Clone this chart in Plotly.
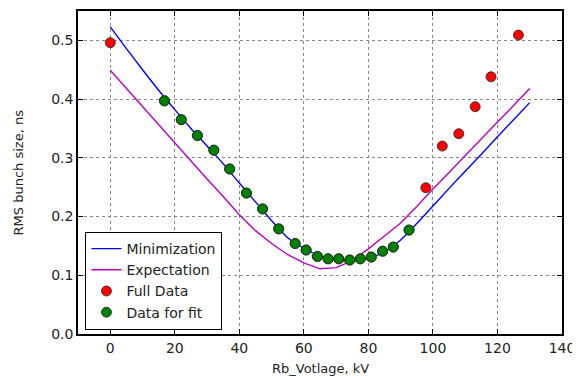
import plotly.graph_objects as go

curve_x = [0, 5, 10, 15, 20, 25, 30, 35, 40, 45, 50, 55, 60, 65, 70, 75, 80, 85, 90, 95, 100, 105, 110, 115, 120, 125, 130]
minimization_y = [0.523, 0.486, 0.450, 0.415, 0.382, 0.350, 0.320, 0.290, 0.257, 0.225, 0.193, 0.164, 0.146, 0.133, 0.126, 0.124, 0.129, 0.140, 0.160, 0.188, 0.218, 0.248, 0.277, 0.306, 0.336, 0.365, 0.394]
expectation_y = [0.449, 0.418, 0.387, 0.356, 0.326, 0.295, 0.264, 0.234, 0.203, 0.176, 0.154, 0.135, 0.121, 0.111, 0.113, 0.125, 0.145, 0.167, 0.189, 0.217, 0.247, 0.275, 0.304, 0.332, 0.361, 0.389, 0.418]

# Full data (red)
full_x = [0, 16.8, 22.0, 27.0, 32.1, 37.0, 42.2, 47.2, 52.2, 57.3, 60.7, 64.2, 67.5, 70.8, 74.2, 77.5, 80.9, 84.4, 87.7, 92.6, 97.8, 102.9, 108.0, 113.1, 118.0, 126.5]
full_y = [0.496, 0.397, 0.365, 0.338, 0.313, 0.281, 0.240, 0.213, 0.179, 0.154, 0.143, 0.132, 0.128, 0.128, 0.126, 0.128, 0.131, 0.141, 0.148, 0.177, 0.249, 0.320, 0.341, 0.387, 0.438, 0.509]

# Data for fit (green)
fit_x = [16.8, 22.0, 27.0, 32.1, 37.0, 42.2, 47.2, 52.2, 57.3, 60.7, 64.2, 67.5, 70.8, 74.2, 77.5, 80.9, 84.4, 87.7, 92.6]
fit_y = [0.397, 0.365, 0.338, 0.313, 0.281, 0.240, 0.213, 0.179, 0.154, 0.143, 0.132, 0.128, 0.128, 0.126, 0.128, 0.131, 0.141, 0.148, 0.177]

x_ticks = [0, 20, 40, 60, 80, 100, 120, 140]
y_ticks = [0.0, 0.1, 0.2, 0.3, 0.4, 0.5]

FONT = "DejaVu Sans"
TXT = "#222222"

fig = go.Figure()
fig.add_trace(go.Scatter(x=curve_x, y=minimization_y, mode="lines", name="Minimization",
                         line=dict(color="#0000ff", width=1.4, shape="spline", smoothing=0.6)))
fig.add_trace(go.Scatter(x=curve_x, y=expectation_y, mode="lines", name="Expectation",
                         line=dict(color="#bf00bf", width=1.4)))
fig.add_trace(go.Scatter(x=full_x, y=full_y, mode="markers", name="Full Data",
                         marker=dict(color="#ff0000", size=10, line=dict(color="#222222", width=0.8))))
fig.add_trace(go.Scatter(x=fit_x, y=fit_y, mode="markers", name="Data for fit",
                         marker=dict(color="#008000", size=10, line=dict(color="#222222", width=0.8))))

axis_common = dict(
    showline=True, linecolor="black", linewidth=1.5, mirror="ticks",
    ticks="inside", ticklen=5, tickcolor="black",
    showgrid=True, gridcolor="#888888", griddash="dot", gridwidth=1,
    zeroline=False, automargin=False,
    tickfont=dict(family=FONT, size=14, color=TXT),
)

fig.update_xaxes(range=[-10, 140], tickvals=x_ticks, **axis_common)
fig.update_yaxes(range=[0, 0.55], tickvals=y_ticks, tickformat=".1f", **axis_common)

# page body has an 8px default margin, so the figure is 8px smaller and shifted
fig.update_layout(
    width=572, height=368,
    margin=dict(l=70, r=18, t=3, b=42),
    paper_bgcolor="white", plot_bgcolor="white",
    font=dict(family=FONT, size=13, color=TXT),
    legend=dict(x=0.015, y=0.013, xanchor="left", yanchor="bottom",
                bgcolor="white", bordercolor="black", borderwidth=1.2,
                font=dict(family=FONT, size=14, color=TXT),
                tracegroupgap=0, itemwidth=30),
    showlegend=True,
    annotations=[
        dict(text="Rb_Votlage, kV", xref="paper", yref="paper", x=0.5, y=-0.108,
             xanchor="center", yanchor="middle", showarrow=False,
             font=dict(family=FONT, size=13, color=TXT)),
        dict(text="RMS bunch size, ns", xref="paper", yref="paper", x=-0.122, y=0.5,
             xanchor="center", yanchor="middle", showarrow=False, textangle=-90,
             font=dict(family=FONT, size=13, color=TXT)),
    ],
)

fig.write_html("out.html")
